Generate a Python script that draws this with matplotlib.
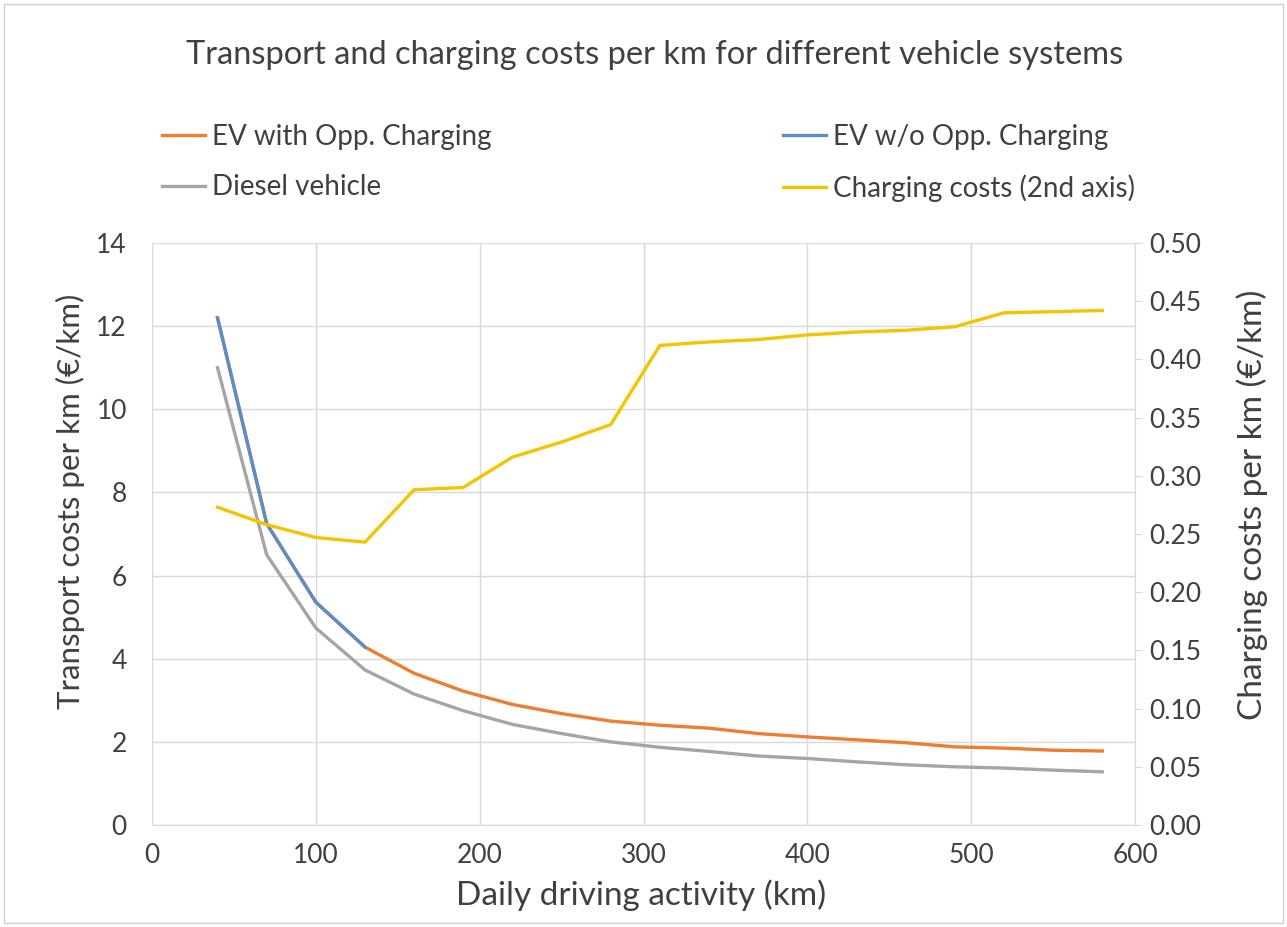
import matplotlib
matplotlib.use("Agg")
import matplotlib.pyplot as plt
from matplotlib.lines import Line2D
from matplotlib.patches import Rectangle

# ---------------------------------------------------------------------------
# Data
# ---------------------------------------------------------------------------
km = [40, 70, 100, 130, 160, 190, 220, 250, 280, 310,
      340, 370, 400, 430, 460, 490, 520, 550, 580]

ev_opp = [12.2, 7.25, 5.36, 4.28, 3.65, 3.22, 2.90, 2.68, 2.50, 2.40,
          2.33, 2.20, 2.12, 2.05, 1.98, 1.88, 1.85, 1.80, 1.78]

km_no_opp = [40, 70, 100, 130]
ev_no_opp = [12.2, 7.25, 5.36, 4.28]

diesel = [11.0, 6.5, 4.74, 3.73, 3.15, 2.75, 2.42, 2.20, 2.00, 1.87,
          1.77, 1.66, 1.60, 1.52, 1.45, 1.40, 1.37, 1.32, 1.28]

charging = [0.273, 0.258, 0.247, 0.243, 0.288, 0.290, 0.316, 0.329, 0.344, 0.412,
            0.415, 0.417, 0.421, 0.4235, 0.425, 0.428, 0.440, 0.441, 0.442]

left_ticks = list(range(0, 15, 2))
right_ticks = [i * 0.05 for i in range(11)]
x_ticks = list(range(0, 601, 100))

# ---------------------------------------------------------------------------
# Style
# ---------------------------------------------------------------------------
plt.rcParams.update({
    "font.family": ["Lato", "DejaVu Sans"],
    "font.size": 14,
})

C_ORANGE = "#ED7D31"
C_BLUE = "#5B8EC8"
C_GREY = "#A5A5A5"
C_YELLOW = "#F5C400"
C_GRID = "#D9D9D9"
C_TEXT = "#404040"

fig = plt.figure(figsize=(12.87, 9.27), dpi=100)
fig.patches.append(Rectangle((0.003, 0.004), 0.994, 0.992, transform=fig.transFigure,
                             fill=False, edgecolor="#D0D0D0", linewidth=1.0))

ax = fig.add_axes([0.1181, 0.110, 0.7638, 0.6279])
ax2 = ax.twinx()

lw = 2.4
ax.plot(km, ev_opp, color=C_ORANGE, linewidth=lw, zorder=3)
ax.plot(km, diesel, color=C_GREY, linewidth=lw, zorder=3)
ax.plot(km_no_opp, ev_no_opp, color=C_BLUE, linewidth=lw, zorder=4)
ax2.plot(km, charging, color=C_YELLOW, linewidth=lw, zorder=3)

ax.set_xlim(0, 600)
ax.set_ylim(0, 14)
ax2.set_ylim(0, 0.5)
ax.set_xticks(x_ticks)
ax.set_yticks(left_ticks)
ax2.set_yticks(right_ticks)
ax2.set_yticklabels([f"{t:.2f}" for t in right_ticks])

ax.grid(True, color=C_GRID, linewidth=1.0)
ax.set_axisbelow(True)

for a in (ax, ax2):
    for side in ("top", "left", "right"):
        a.spines[side].set_visible(False)
    a.spines["bottom"].set_color(C_GRID)
ax2.spines["right"].set_visible(True)
ax2.spines["right"].set_color(C_GRID)

ax.tick_params(axis="y", length=0, labelsize=19, labelcolor=C_TEXT, pad=18)
ax.tick_params(axis="x", length=0, labelsize=19, labelcolor=C_TEXT, pad=13)
ax2.tick_params(axis="y", length=5, color=C_GRID, labelsize=19, labelcolor=C_TEXT, pad=5)

# axis titles
fig.text(0.498, 0.0345, "Daily driving activity (km)", fontsize=24,
         color=C_TEXT, ha="center", va="center")
fig.text(0.0544, 0.4595, "Transport costs per km (€/km)", fontsize=22.5,
         color=C_TEXT, ha="center", va="center", rotation=90)
fig.text(0.9728, 0.4552, "Charging costs per km (€/km)", fontsize=24,
         color=C_TEXT, ha="center", va="center", rotation=90)

fig.text(0.509, 0.9407, "Transport and charging costs per km for different vehicle systems",
         fontsize=23.5, color=C_TEXT, ha="center", va="center")

handles = [
    Line2D([], [], color=C_ORANGE, linewidth=lw),
    Line2D([], [], color=C_GREY, linewidth=lw),
    Line2D([], [], color=C_BLUE, linewidth=lw),
    Line2D([], [], color=C_YELLOW, linewidth=lw),
]
labels = ["EV with Opp. Charging", "Diesel vehicle",
          "EV w/o Opp. Charging", "Charging costs (2nd axis)"]
fig.legend(handles, labels, ncol=2, frameon=False, fontsize=20,
           loc="upper left", bbox_to_anchor=(0.1259, 0.866),
           borderaxespad=0, borderpad=0,
           handlelength=1.55, handletextpad=0.25, columnspacing=10.5,
           labelspacing=0.87, labelcolor=C_TEXT)

fig.savefig("out.png", dpi=100)
